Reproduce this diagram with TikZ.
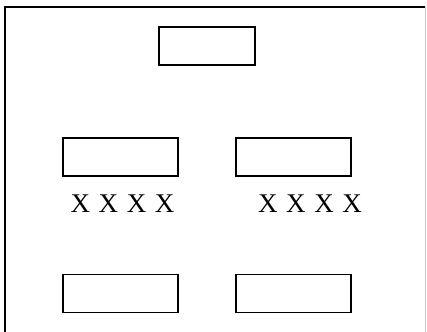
\documentclass[tikz,border=0pt]{standalone}
\usepackage{fontspec}
\setmainfont{Liberation Serif}
\usepackage{tikz}
\usetikzlibrary{positioning}
\definecolor{FrameGrey}{HTML}{C8C8C8}
\newcommand{\widespace}{\spaceskip=8.6pt plus 0pt minus 0pt\relax}

\begin{document}
\begin{tikzpicture}[
  x=1pt,y=-1pt,
  box/.style={draw=black,line width=1.7pt,minimum width=115pt,minimum height=38pt,inner sep=0pt},
  topbox/.style={box,minimum width=96pt},
  xlabel/.style={font={\fontsize{27}{30}\selectfont\widespace},inner sep=0pt,anchor=base}
]
\useasboundingbox (0,0) rectangle (427,331);
% frame, cut off at the bottom
\draw[line width=2pt] (4.5,340) -- (4.5,7.5) -- (425,7.5);
\draw[FrameGrey,line width=1pt] (425,7.5) -- (425,340);
\node[topbox] (top) at (207,46) {};
\node[box] (midleft) at (120.5,157.2) {};
\node[box] (midright) at (293.3,157.2) {};
\node[box] (botleft) at (120.5,293.4) {};
\node[box] (botright) at (293.3,293.4) {};
\node[xlabel] (labelleft) at (122.5,212.7) {X X X X};
\node[xlabel] (labelright) at (310,212.7) {X X X X};
\end{tikzpicture}
\end{document}
